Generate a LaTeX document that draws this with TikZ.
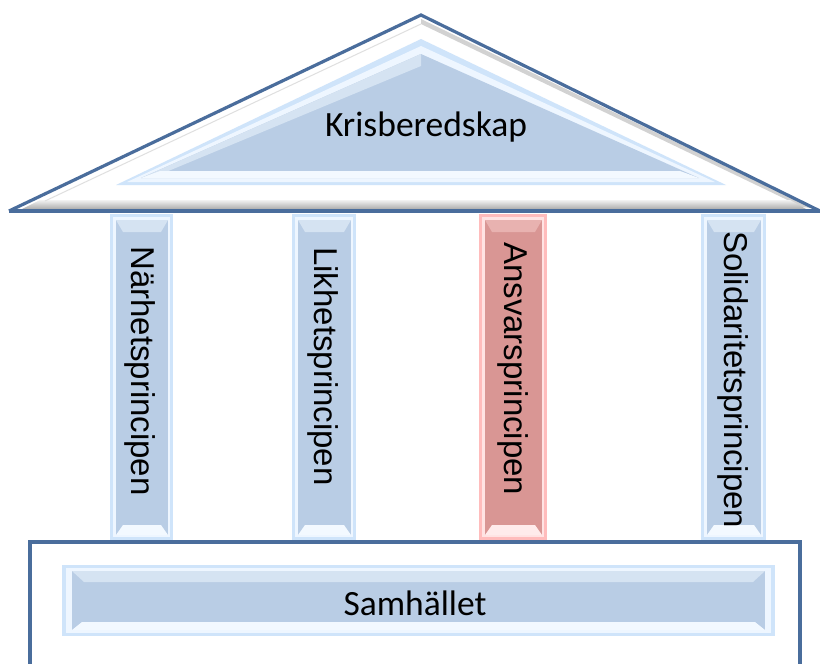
\documentclass[tikz,border=0pt]{standalone}
\usepackage{fontspec}
\setmainfont{Carlito}
\newfontfamily\pillarfont{Liberation Sans}
\definecolor{darkblue}{HTML}{4A6D9C}
\definecolor{fillblue}{HTML}{B9CDE5}
\definecolor{glowblue}{HTML}{CFE4FA}
\definecolor{paleblue}{HTML}{EEF6FF}
\definecolor{bevelblue}{HTML}{D5E3F2}
\definecolor{redfill}{HTML}{D99694}
\definecolor{redframe}{HTML}{FFBCBC}
\definecolor{palered}{HTML}{FFE3E3}
\definecolor{bevelred}{HTML}{E8B2B0}
\tikzset{
  titletext/.style={font=\fontsize{35.5}{40}\selectfont, text=black, inner sep=0pt},
  pillartext/.style={font=\pillarfont\fontsize{33}{38}\selectfont, text=black, inner sep=0pt, rotate=-90, anchor=west},
  edgeline/.style={draw=darkblue, line width=3.2pt, line join=miter}
}
% #1 x-left outer, #2 x-right outer, #3 frame colour, #4 pale colour, #5 bevel colour, #6 fill colour
\newcommand\drawpillar[6]{%
  \fill[#3] (#1,214) rectangle (#2,540);
  \fill[#4] ({#1+3},217) rectangle ({#2-3},537);
  \fill[#6] ({#1+6},220) rectangle ({#2-5},535);
  \fill[#5] ({#1+6},220) -- ({#2-5},220) -- ({#2-12},232) -- ({#1+13},232) -- cycle;
  \fill[#4!70!white] ({#1+6},535) -- ({#2-5},535) -- ({#2-12},525) -- ({#1+13},525) -- cycle;
}
\begin{document}
\begin{tikzpicture}[x=1pt,y=-1pt]
\useasboundingbox (0,0) rectangle (820,664);
\clip (0,0) rectangle (820,664);
\fill[white] (0,0) rectangle (820,664);

% base
\draw[edgeline, fill=white] (30,668) -- (30,542) -- (800,542) -- (800,668);
% Samhallet bar
\fill[glowblue] (62,565) rectangle (775,636);
\fill[paleblue] (66,568) rectangle (771,633);
\fill[fillblue] (72,571) rectangle (765,630);
\fill[bevelblue] (72,571) -- (765,571) -- (753,582) -- (84,582) -- cycle;
\fill[paleblue!70!white] (72,630) -- (765,630) -- (755,622) -- (82,622) -- cycle;
\node[titletext] (samh) at (415,603) {Samhället};

% pillars
\drawpillar{110}{173}{glowblue}{paleblue}{bevelblue}{fillblue}
\drawpillar{292}{356}{glowblue}{paleblue}{bevelblue}{fillblue}
\drawpillar{479}{547}{redframe}{palered}{bevelred}{redfill}
\drawpillar{701}{766}{glowblue}{paleblue}{bevelblue}{fillblue}
\node[pillartext] (p1) at (140,246) {Närhetsprincipen};
\node[pillartext] (p2) at (323,247) {Likhetsprincipen};
\node[pillartext] (p3) at (513,242) {Ansvarsprincipen};
\node[pillartext] (p4) at (733,231) {Solidaritetsprincipen};

% roof
\fill[white] (9,211) -- (421,15) -- (820,211) -- cycle;
% grey bevel on the right slope and along the base
\fill[gray!35] (421,19) -- (812,208) -- (802,207) -- (421,24) -- cycle;
\shade[top color=gray!10, bottom color=gray!65] (40,200) -- (790,200) -- (806,209) -- (22,209) -- cycle;
\draw[gray!25, line width=1pt] (45,201) -- (421,24);
% inner triangle
\fill[glowblue] (116,185) -- (421,39) -- (726,185) -- cycle;
\fill[paleblue] (127,182) -- (421,46) -- (715,182) -- cycle;
\fill[fillblue] (141,178) -- (421,54) -- (699,178) -- cycle;
\fill[bevelblue] (141,178) -- (421,54) -- (421,66) -- (166,172) -- cycle;
\fill[paleblue!70!white] (141,178) -- (699,178) -- (680,171) -- (160,171) -- cycle;
% outline
\draw[edgeline] (9,211) -- (421,15) -- (820,211);
\draw[draw=darkblue, line width=3.8pt] (9,211) -- (820,211);
\node[titletext] (roof) at (426,127) {Krisberedskap};
\end{tikzpicture}
\end{document}
